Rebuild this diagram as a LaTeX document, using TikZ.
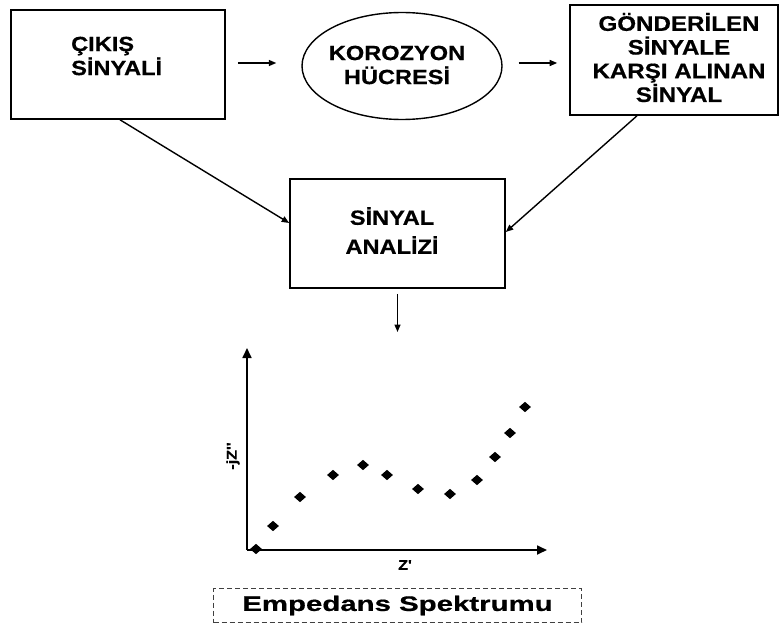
\documentclass[tikz,border=0pt]{standalone}
\usepackage{fontspec}
\setmainfont{Liberation Sans}
\newfontfamily\wfont[FakeStretch=1.15, BoldFeatures={FakeBold=0.6}]{Liberation Sans}
\newfontfamily\xfont[FakeStretch=1.4, BoldFeatures={FakeBold=0.6}]{Liberation Sans}
\usetikzlibrary{arrows.meta,shapes.geometric}
\begin{document}
\begin{tikzpicture}[x=1pt,y=-1pt,
  boxtxt/.style={font=\wfont\bfseries\fontsize{20.5}{24}\selectfont, align=center, inner sep=0pt},
  frame/.style={draw, line width=1.6pt, inner sep=0pt},
  arr/.style={line width=1.4pt, -{Triangle[length=7.5pt,width=6pt]}},
  dot/.style={diamond, fill=black, inner sep=0pt, minimum width=12pt, minimum height=10.5pt}]
\useasboundingbox (0,0) rectangle (779,626);
% boxes
\node[frame, minimum width=214pt, minimum height=109pt] (box1) at (118,64.5) {};
\node[boxtxt, align=left, anchor=west] (t1) at (71,56) {ÇIKIŞ\\SİNYALİ};
\node[draw, ellipse, line width=1.4pt, minimum width=200pt, minimum height=107pt, inner sep=0pt] (kor) at (402,66) {};
\node[boxtxt] (t2) at (397,65) {KOROZYON\\HÜCRESİ};
\node[frame, minimum width=208pt, minimum height=110pt] (box3) at (674,60) {};
\node[boxtxt, font=\wfont\bfseries\fontsize{21}{23.7}\selectfont] (t3) at (679,57.5) {GÖNDERİLEN\\SİNYALE\\KARŞI ALINAN\\SİNYAL};
\node[frame, minimum width=215pt, minimum height=109pt] (sa) at (397.5,233.5) {};
\node[boxtxt, font=\wfont\bfseries\fontsize{20.5}{29}\selectfont] (t4) at (392,230.5) {SİNYAL\\ANALİZİ};
% connectors
\draw[arr] ([xshift=12pt,yshift=1.5pt]box1.east) -- ([xshift=-25pt,yshift=3pt]kor.west);
\draw[arr] ([xshift=16pt,yshift=3pt]kor.east) -- ([xshift=-12pt,yshift=-3pt]box3.west);
\draw[arr] ([xshift=2pt]box1.south) -- ([yshift=10.5pt]sa.west);
\draw[arr] ([xshift=-37pt]box3.south) -- ([yshift=1.5pt]sa.east);
\coordinate (dn) at (397.5,332);
\draw[arr] ([yshift=-5pt]sa.south) -- (dn);
% plot
\coordinate (o) at (247,550);
\coordinate (ytop) at (247,348);
\coordinate (xend) at (547,550);
\node[dot] (p0) at (256,549) {};
\draw[line width=1.7pt, -{Triangle[length=10pt,width=9pt]}] (o) -- (ytop);
\draw[line width=1.7pt, -{Triangle[length=10pt,width=9pt]}] (o) -- (xend);
\foreach \px/\py [count=\i] in {273/526, 300/497, 333/475, 363/465, 387/475, 418/489, 450/494, 477/480, 495/457, 510/433, 525/407}
  \node[dot] (p\i) at (\px,\py) {};
\node[font=\wfont\bfseries\fontsize{14}{16}\selectfont, rotate=90] (ylab) at (233,456) {-jZ\char39\char39};
\node[font=\wfont\bfseries\fontsize{14}{16}\selectfont] (xlab) at (405,565) {Z\char39};
\node[draw=black!75, dash pattern=on 5pt off 3pt, line width=0.9pt, minimum width=368pt, minimum height=34pt, inner sep=0pt,
      font=\xfont\bfseries\fontsize{21}{24}\selectfont] (es) at (397.5,605.5) {Empedans Spektrumu};
\end{tikzpicture}
\end{document}
